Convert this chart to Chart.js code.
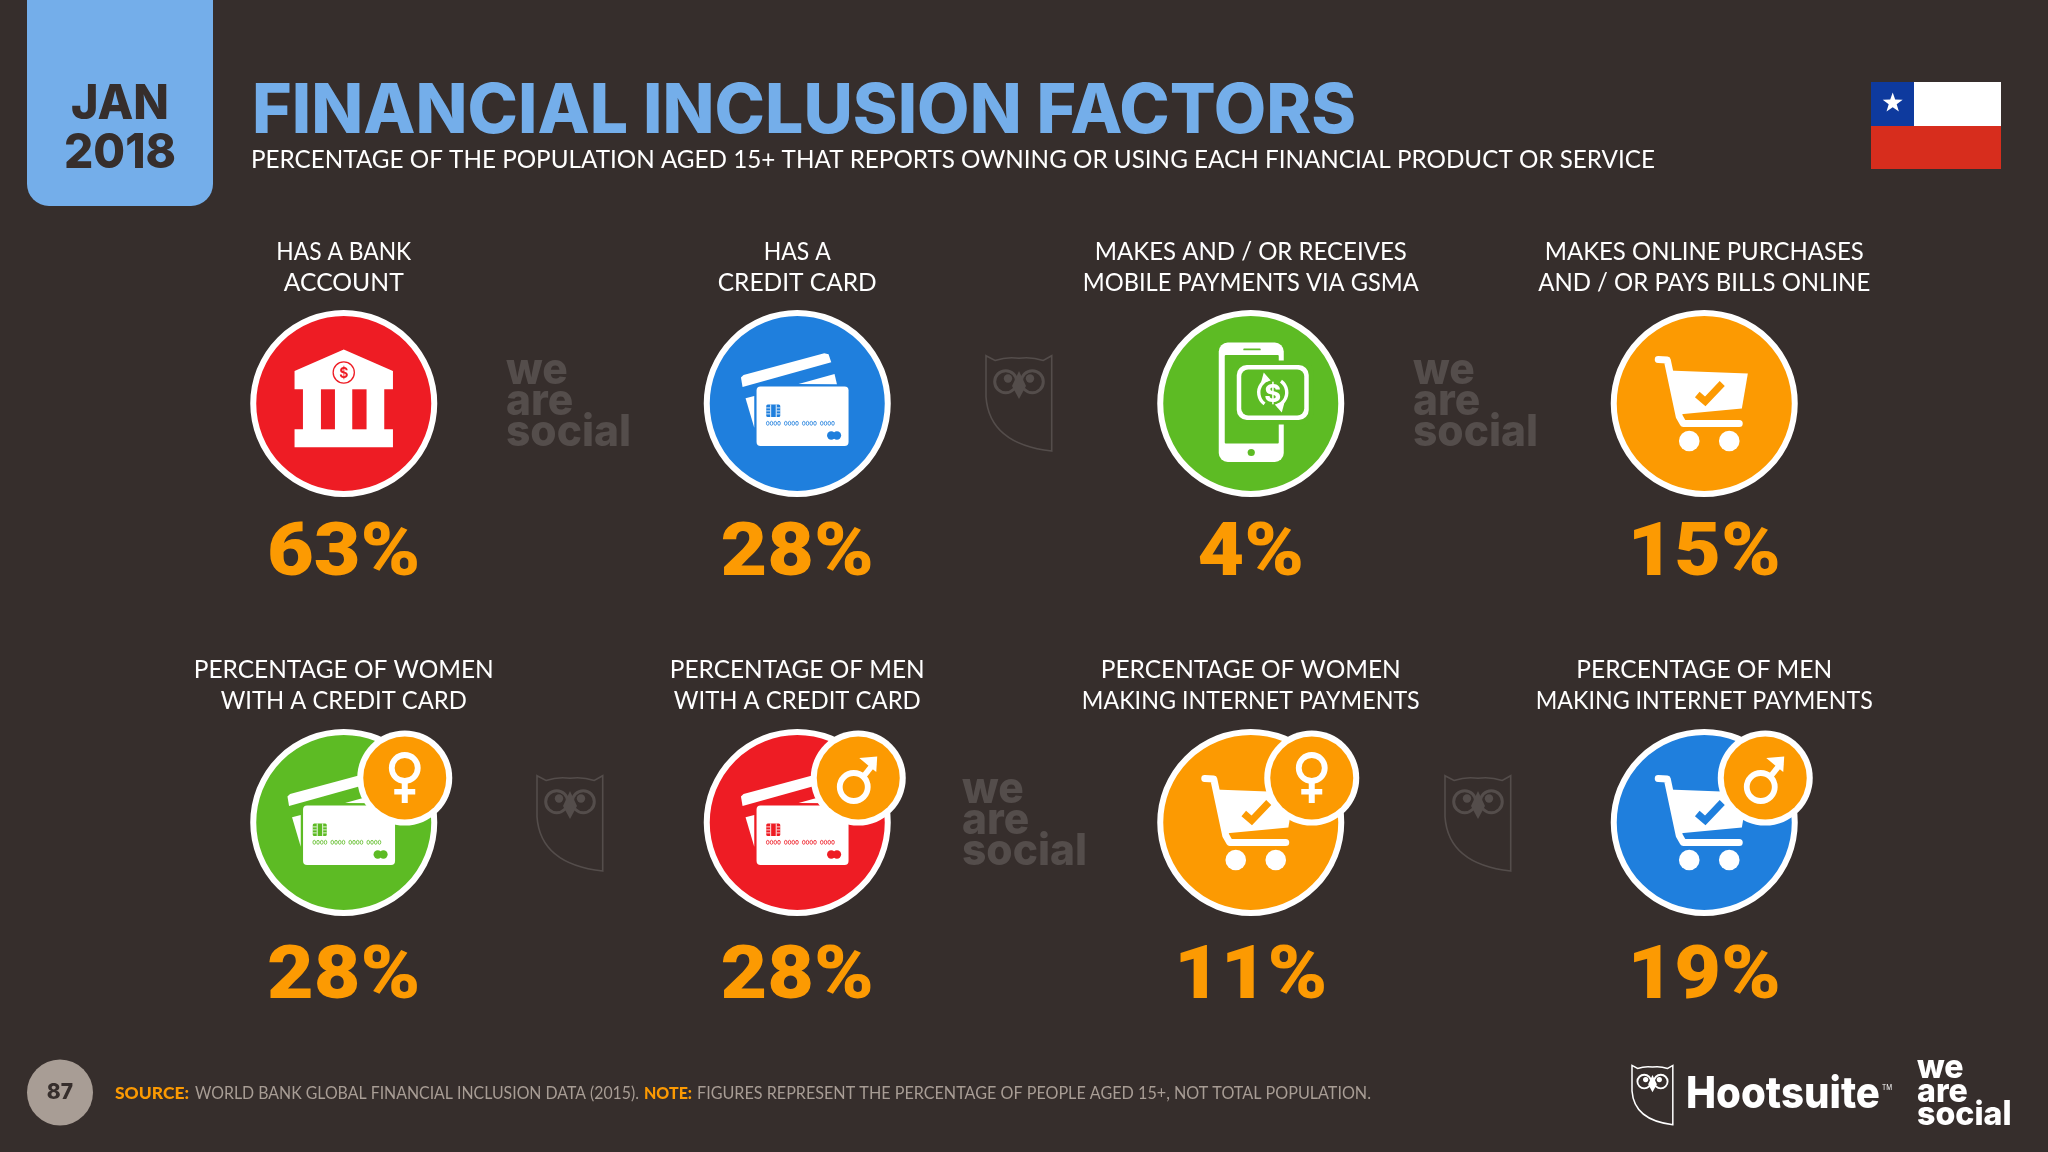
<!DOCTYPE html>
<html>
<head>
<meta charset="utf-8">
<title>Financial inclusion factors</title>
<script src="https://cdn.jsdelivr.net/npm/chart.js@4/dist/chart.umd.min.js"></script>
<style>
  html, body { margin: 0; padding: 0; background: #362e2c; overflow: hidden; }
  canvas { display: block; }
</style>
</head>
<body>
<canvas id="chart" width="2048" height="1152"></canvas>
<script>
// ── Data ───────────────────────────────────────────────────────
const LABEL_TOP = ['HAS A BANK', 'HAS A', 'MAKES AND / OR RECEIVES', 'MAKES ONLINE PURCHASES',
                   'PERCENTAGE OF WOMEN', 'PERCENTAGE OF MEN', 'PERCENTAGE OF WOMEN', 'PERCENTAGE OF MEN'];
const LABEL_BOTTOM = ['ACCOUNT', 'CREDIT CARD', 'MOBILE PAYMENTS VIA GSMA', 'AND / OR PAYS BILLS ONLINE',
                      'WITH A CREDIT CARD', 'WITH A CREDIT CARD', 'MAKING INTERNET PAYMENTS', 'MAKING INTERNET PAYMENTS'];
const VALUES  = [63, 28, 4, 15, 28, 28, 11, 19];
const COLUMNS = [0, 1, 2, 3, 0, 1, 2, 3];
const ROWS    = [0, 0, 0, 0, 1, 1, 1, 1];
const ICONS   = ['bank', 'card', 'phone', 'cart', 'card', 'card', 'cart', 'cart'];
const BADGES  = [null, null, null, null, 'female', 'male', 'female', 'male'];

// ── Colours and text fit ───────────────────────────────────────
const BG = '#362e2c', WHITE = '#ffffff', SKY = '#74aeea', ORANGE = '#fc9a02', GHOST = '#544d4b', GREY = '#a89d95';
const RED = '#ee1c24', BLUE = '#1f7fdd', GREEN = '#5dbb24';
const FILLS = [RED, BLUE, GREEN, ORANGE, GREEN, RED, ORANGE, BLUE];
const TOP_FIT    = [135, 67, 312, 319, 300, 255, 300, 256];
const BOTTOM_FIT = [120, 159, 336, 332, 246, 247, 338, 337];

// ── Helpers ────────────────────────────────────────────────────
function text(ctx, str, x, y, font, color, align, width, sx) {
  ctx.save();
  ctx.font = font;
  ctx.fillStyle = color;
  ctx.textAlign = 'left';
  ctx.textBaseline = 'alphabetic';
  const w = ctx.measureText(str).width;
  const scale = width ? width / w : (sx || 1);
  const left = align === 'center' ? x - w * scale / 2 : x;
  ctx.translate(left, y);
  ctx.scale(scale, 1);
  ctx.fillText(str, 0, 0);
  ctx.restore();
  return left + w * scale;
}

function poly(ctx, pts, color) {
  ctx.beginPath();
  pts.forEach((p, i) => i ? ctx.lineTo(p[0], p[1]) : ctx.moveTo(p[0], p[1]));
  ctx.closePath();
  ctx.fillStyle = color;
  ctx.fill();
}

function rrect(ctx, x, y, w, h, r, color) {
  ctx.beginPath();
  ctx.roundRect(x, y, w, h, r);
  ctx.fillStyle = color;
  ctx.fill();
}

function disc(ctx, x, y, r, color) {
  ctx.beginPath();
  ctx.arc(x, y, r, 0, Math.PI * 2);
  ctx.fillStyle = color;
  ctx.fill();
}

function owl(ctx, x, y, w, color, lw) {
  const k = w / 66;
  ctx.save();
  ctx.translate(x, y);
  ctx.scale(k, k);
  ctx.strokeStyle = color;
  ctx.lineWidth = lw / k;
  ctx.beginPath();
  ctx.moveTo(0, 0.7);
  ctx.lineTo(9, 5.5);
  ctx.quadraticCurveTo(21, 1.5, 33, 3.3);
  ctx.quadraticCurveTo(45, 1.5, 57.3, 5.5);
  ctx.lineTo(65.7, 0.7);
  ctx.lineTo(65.7, 96);
  ctx.bezierCurveTo(27.3, 91.7, 2.3, 75, 0, 41.7);
  ctx.closePath();
  ctx.stroke();
  ctx.lineWidth = 3;
  [[19.7, 1], [46.3, 1]].forEach(e => {
    ctx.beginPath();
    ctx.arc(e[0], 26.7, 11, 0, Math.PI * 2);
    ctx.stroke();
  });
  disc(ctx, 22, 23.5, 4.2, color);
  disc(ctx, 44, 23.5, 4.2, color);
  poly(ctx, [[33, 16], [26, 31], [33, 44], [40, 31]], color);
  ctx.restore();
}

function wordmark(ctx, x, y, size, color) {
  const gap = size * 0.76;
  const font = `800 ${size * 1.08}px Inter`;
  ctx.save();
  ctx.font = font;
  const sx = size * 3.05 / ctx.measureText('social').width;
  ctx.restore();
  text(ctx, 'we', x, y, font, color, 'left', 0, sx);
  text(ctx, 'are', x, y + gap, font, color, 'left', 0, sx);
  text(ctx, 'social', x, y + gap * 2, font, color, 'left', 0, sx);
}

// ── Icons, all relative to the centre of the point ─────────────
function bankIcon(ctx, c) {
  poly(ctx, [[0, -54], [49.2, -32.5], [49.2, -14.2], [40.5, -14.2], [40.5, 25.8], [49.2, 25.8], [49.2, 43.8],
             [-49.2, 43.8], [-49.2, 25.8], [-40.8, 25.8], [-40.8, -14.2], [-49.2, -14.2], [-49.2, -32.5]], WHITE);
  ctx.fillStyle = c;
  ctx.fillRect(-22.8, -14.2, 14, 40);
  ctx.fillRect(8.5, -14.2, 14.3, 40);
  ctx.beginPath();
  ctx.arc(0, -31, 10.6, 0, Math.PI * 2);
  ctx.strokeStyle = c;
  ctx.lineWidth = 1.3;
  ctx.stroke();
  text(ctx, '$', 0, -26, '700 14px Inter', c, 'center');
}

function cardIcon(ctx, c) {
  poly(ctx, [[-56.3, -26], [-53.7, -28.5], [27, -50.2], [31.3, -49.2], [34, -41.2], [-54.7, -16.5]], WHITE);
  poly(ctx, [[1.3, -19.5], [37.3, -29.5], [39.7, -19.2]], WHITE);
  poly(ctx, [[-51.7, -5.2], [-43, -7.5], [-43, 24.2]], WHITE);
  rrect(ctx, -40.7, -17, 92, 59.5, 4, WHITE);
  // chip
  rrect(ctx, -31, 1, 14, 12.5, 1.5, c);
  ctx.fillStyle = WHITE;
  ctx.fillRect(-27, 1, 0.9, 12.5);
  ctx.fillRect(-21.5, 1, 0.9, 12.5);
  [4, 7, 10].forEach(y => {
    ctx.fillRect(-31, y, 4, 0.8);
    ctx.fillRect(-20.6, y, 3.6, 0.8);
  });
  // card number
  ctx.strokeStyle = c;
  ctx.lineWidth = 0.8;
  for (let g = 0; g < 4; g++) {
    for (let d = 0; d < 4; d++) {
      ctx.beginPath();
      ctx.ellipse(-29.5 + g * 18 + d * 3.75, 19.8, 1.3, 2, 0, 0, Math.PI * 2);
      ctx.stroke();
    }
  }
  disc(ctx, 34, 32, 4.2, c);
  disc(ctx, 39.7, 32, 4.2, c);
}

function cartIcon(ctx, c) {
  ctx.strokeStyle = WHITE;
  ctx.lineCap = 'round';
  ctx.lineJoin = 'round';
  ctx.lineWidth = 7;
  ctx.beginPath();
  ctx.moveTo(-46, -44);
  ctx.lineTo(-37, -43.5);
  ctx.lineTo(-25, 13);
  ctx.lineTo(-21, 20);
  ctx.lineTo(35, 20);
  ctx.stroke();
  poly(ctx, [[-36, -33], [43.6, -30], [37.6, 5], [-26, 11]], WHITE);
  disc(ctx, -15, 37.5, 10.3, WHITE);
  disc(ctx, 25, 37.5, 10.3, WHITE);
  // tick
  ctx.strokeStyle = c;
  ctx.lineCap = 'butt';
  ctx.lineJoin = 'miter';
  ctx.lineWidth = 7;
  ctx.beginPath();
  ctx.moveTo(-7, -9);
  ctx.lineTo(1, -2);
  ctx.lineTo(18, -20);
  ctx.stroke();
  ctx.lineCap = 'butt';
}

function phoneIcon(ctx, c) {
  rrect(ctx, -32, -61, 65, 119.5, 9, WHITE);
  rrect(ctx, -26, -48.5, 54, 88.5, 1, c);
  rrect(ctx, -7.5, -55, 17.5, 1.8, 1, c);
  disc(ctx, 0.5, 49, 3.6, c);
  rrect(ctx, -19, -43, 82, 64, 12, c);
  rrect(ctx, -14, -38.5, 72, 55, 10, WHITE);
  rrect(ctx, -9.5, -34, 63, 46, 7, c);
  const nx = 22, ny = -11;
  ctx.strokeStyle = WHITE;
  ctx.lineWidth = 3.4;
  ctx.beginPath();
  ctx.arc(nx, ny, 14, Math.PI * 0.7, Math.PI * 1.4);
  ctx.stroke();
  ctx.beginPath();
  ctx.arc(nx, ny, 14, -Math.PI * 0.3, Math.PI * 0.4);
  ctx.stroke();
  poly(ctx, [[nx - 9, ny - 20], [nx - 2, ny - 12], [nx - 12, ny - 9]], WHITE);
  poly(ctx, [[nx + 9, ny + 20], [nx + 2, ny + 12], [nx + 12, ny + 9]], WHITE);
  text(ctx, '$', nx, ny + 9, '800 25px Inter', WHITE, 'center');
}

function badge(ctx, kind) {
  const bx = 61, by = -44.5;
  disc(ctx, bx, by, 47.5, WHITE);
  disc(ctx, bx, by, 41.5, ORANGE);
  ctx.strokeStyle = WHITE;
  ctx.lineWidth = 5.8;
  ctx.lineCap = 'butt';
  if (kind === 'female') {
    ctx.beginPath();
    ctx.arc(bx, by - 10, 13, 0, Math.PI * 2);
    ctx.stroke();
    ctx.fillStyle = WHITE;
    ctx.fillRect(bx - 3, by + 3, 6, 22);
    ctx.fillRect(bx - 10.5, by + 11, 21, 5.5);
  } else {
    ctx.beginPath();
    ctx.arc(bx - 4.5, by + 9, 14, 0, Math.PI * 2);
    ctx.stroke();
    ctx.beginPath();
    ctx.moveTo(bx + 4, by);
    ctx.lineTo(bx + 16, by - 15);
    ctx.stroke();
    poly(ctx, [[bx + 1, by - 20], [bx + 19, by - 21.5], [bx + 18, by - 6], [bx + 13, by - 10], [bx + 7, by - 15]], WHITE);
  }
}

const DRAW_ICON = { bank: bankIcon, card: cardIcon, cart: cartIcon, phone: phoneIcon };

// ── Everything around the circles ──────────────────────────────
function drawBackdrop(ctx) {
  ctx.fillStyle = BG;
  ctx.fillRect(0, 0, 2048, 1152);

  // date tab
  rrect(ctx, 27, -30, 186, 236, 22, SKY);
  text(ctx, 'JAN', 120, 119, '800 48px Inter', BG, 'center', 98);
  text(ctx, '2018', 120, 168, '800 48px Inter', BG, 'center', 112);

  // title
  text(ctx, 'FINANCIAL INCLUSION FACTORS', 252, 133, '800 69px Inter', SKY, 'left', 1104);
  text(ctx, 'PERCENTAGE OF THE POPULATION AGED 15+ THAT REPORTS OWNING OR USING EACH FINANCIAL PRODUCT OR SERVICE',
       251, 168, '400 25px Lato', WHITE, 'left', 1404);

  // flag
  ctx.fillStyle = WHITE;
  ctx.fillRect(1871, 82, 130, 44);
  ctx.fillStyle = '#d72d1d';
  ctx.fillRect(1871, 126, 130, 43);
  ctx.fillStyle = '#0e3a9e';
  ctx.fillRect(1871, 82, 43, 44);
  const star = [];
  for (let i = 0; i < 10; i++) {
    const r = i % 2 ? 4.2 : 10.5, a = -Math.PI / 2 + i * Math.PI / 5;
    star.push([1892.7 + r * Math.cos(a), 103 + r * Math.sin(a)]);
  }
  poly(ctx, star, WHITE);

  // watermarks
  wordmark(ctx, 506, 384, 41, GHOST);
  wordmark(ctx, 1413, 384, 41, GHOST);
  wordmark(ctx, 962, 803, 41, GHOST);
  owl(ctx, 986, 355, 66, GHOST, 1.6);
  owl(ctx, 537, 775, 66, GHOST, 1.6);
  owl(ctx, 1445, 775, 66, GHOST, 1.6);

  // footer
  disc(ctx, 60, 1092.5, 33, GREY);
  text(ctx, '87', 60, 1099, '800 21px Inter', BG, 'center');
  const srcFont = '400 16.5px Lato', boldFont = '900 16.5px Lato';
  text(ctx, 'SOURCE:', 115, 1099, boldFont, ORANGE, 'left', 74);
  text(ctx, 'WORLD BANK GLOBAL FINANCIAL INCLUSION DATA (2015).', 195, 1099, srcFont, GREY, 'left', 444);
  text(ctx, 'NOTE:', 644, 1099, boldFont, ORANGE, 'left', 48);
  text(ctx, 'FIGURES REPRESENT THE PERCENTAGE OF PEOPLE AGED 15+, NOT TOTAL POPULATION.', 697, 1099, srcFont, GREY, 'left', 674);

  owl(ctx, 1632, 1065, 41, WHITE, 1.5);
  text(ctx, 'Hootsuite', 1686, 1108, '800 44px Inter', WHITE, 'left', 194);
  text(ctx, 'TM', 1882, 1090, '400 7px Inter', WHITE, 'left', 10);
  wordmark(ctx, 1917, 1078, 31, WHITE);
}

const infographic = {
  id: 'infographic',
  beforeDatasetsDraw(chart) {
    drawBackdrop(chart.ctx);
  },
  afterDatasetsDraw(chart) {
    const ctx = chart.ctx;
    chart.getDatasetMeta(0).data.forEach((pt, i) => {
      const row = ROWS[i];
      text(ctx, LABEL_TOP[i], pt.x, pt.y - (row ? 145 : 144), '400 25px Lato', WHITE, 'center', TOP_FIT[i]);
      text(ctx, LABEL_BOTTOM[i], pt.x, pt.y - (row ? 114 : 113), '400 25px Lato', WHITE, 'center', BOTTOM_FIT[i]);
      text(ctx, VALUES[i] + '%', pt.x, pt.y + (row ? 175.5 : 171.5), '900 74px Roboto', ORANGE, 'center', 0, 1.09);
      ctx.save();
      ctx.translate(pt.x, pt.y);
      DRAW_ICON[ICONS[i]](ctx, FILLS[i]);
      if (BADGES[i]) badge(ctx, BADGES[i]);
      ctx.restore();
    });
  }
};

// ── Chart ──────────────────────────────────────────────────────
new Chart(document.getElementById('chart'), {
  type: 'scatter',
  data: {
    datasets: [{
      label: 'Share of population aged 15+',
      data: VALUES.map((v, i) => ({ x: COLUMNS[i], y: ROWS[i], value: v })),
      pointRadius: 90.5,
      pointHoverRadius: 90.5,
      pointBorderWidth: 6,
      pointBorderColor: WHITE,
      pointBackgroundColor: FILLS,
      clip: false
    }]
  },
  options: {
    responsive: false,
    animation: false,
    events: [],
    layout: { padding: { left: 117, right: 117, top: 194, bottom: 120 } },
    plugins: { legend: { display: false }, tooltip: { enabled: false } },
    scales: {
      x: { type: 'linear', display: false, min: -0.5, max: 3.5 },
      y: { type: 'linear', display: false, min: -0.5, max: 1.5, reverse: true }
    }
  },
  plugins: [infographic]
});
</script>
</body>
</html>
